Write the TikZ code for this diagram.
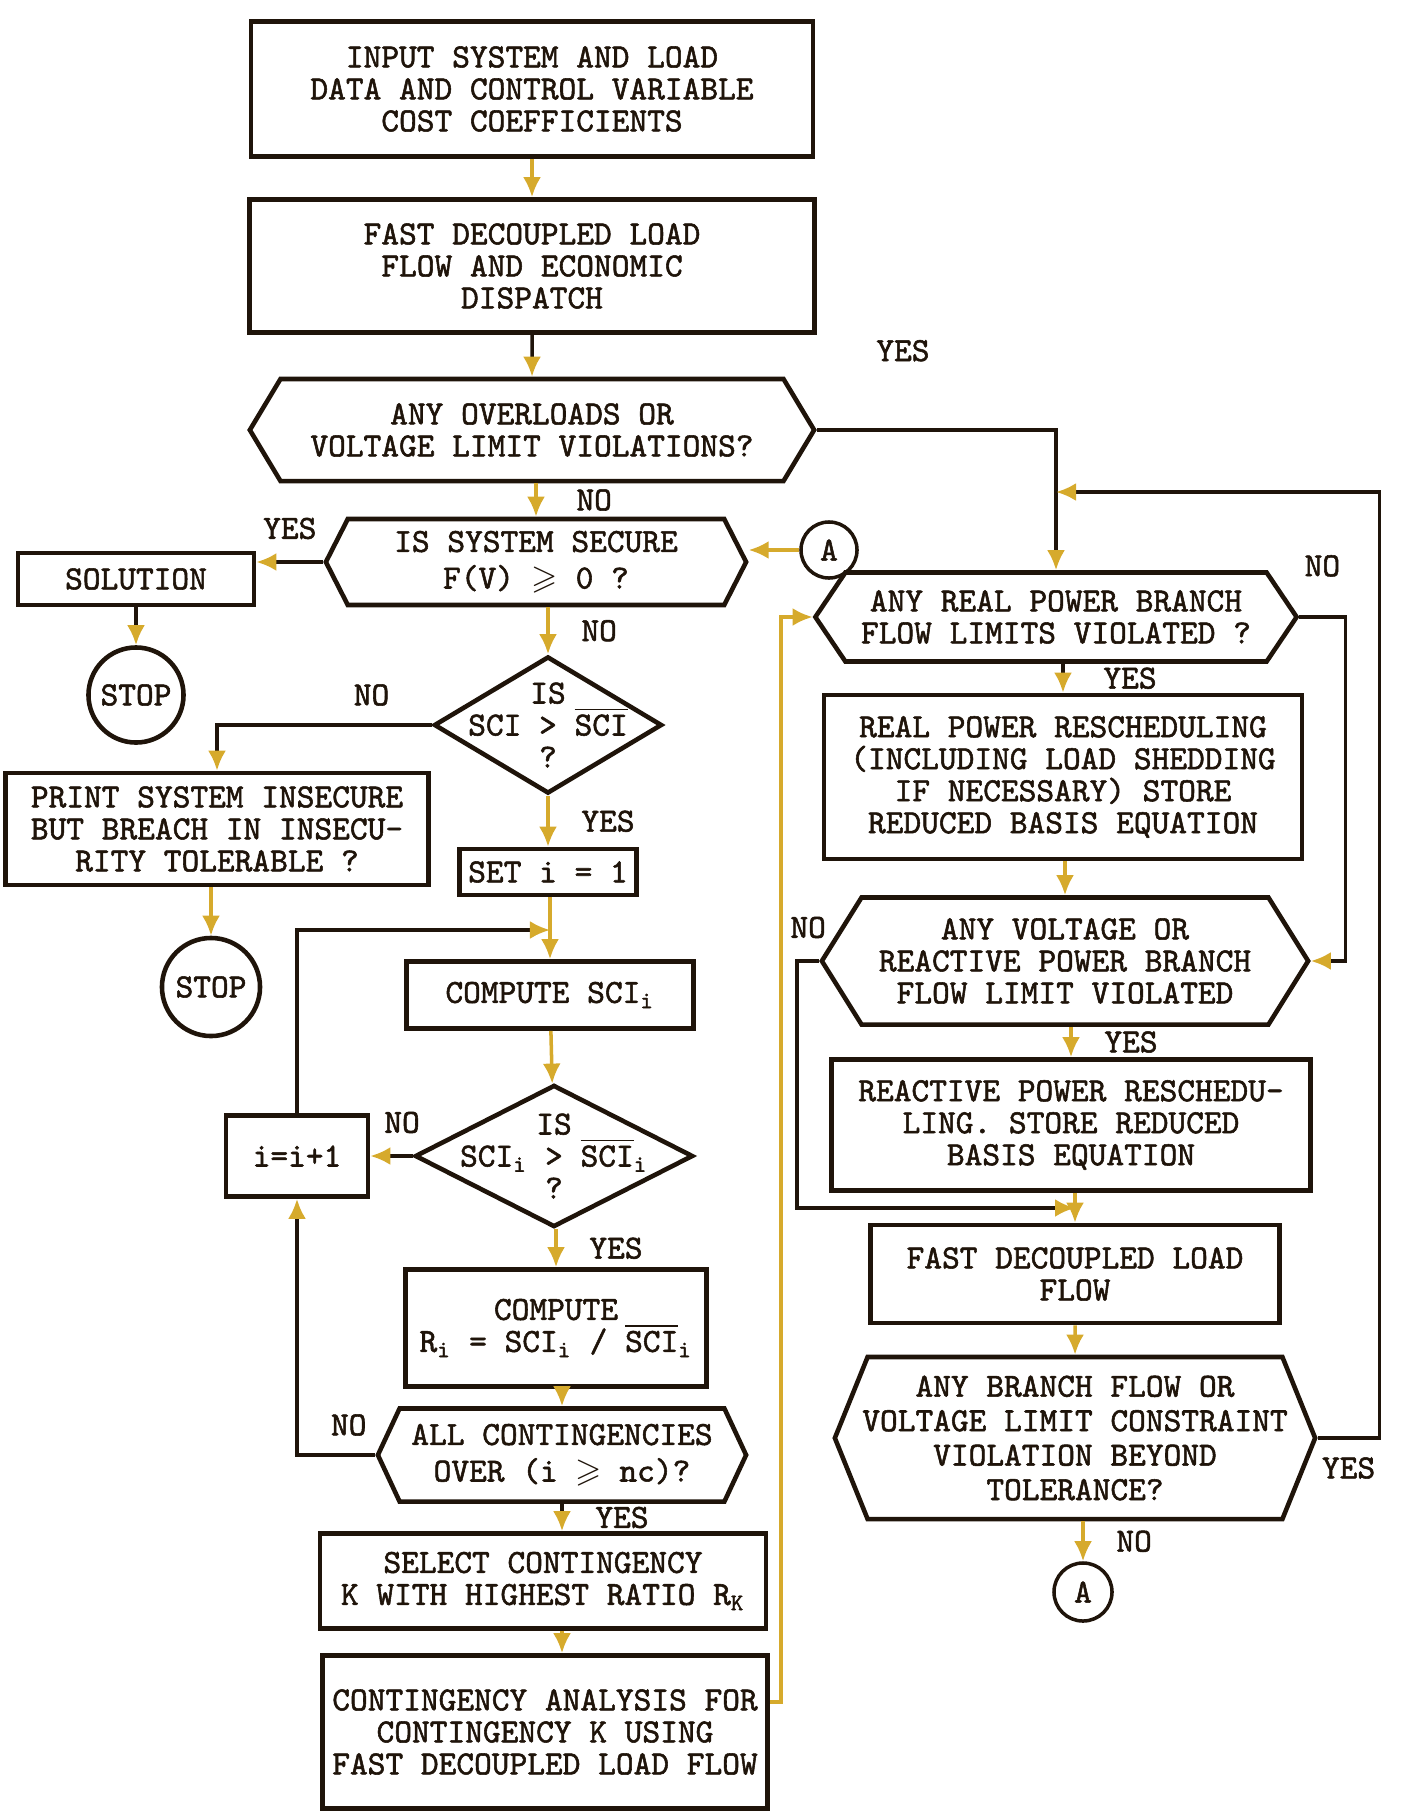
\documentclass[tikz,border=0pt]{standalone}
\usepackage{amssymb}
\usepackage{fontspec}
\newfontfamily\typefont{lmmono10-regular}[Extension=.otf, FakeBold=1.6]
\usetikzlibrary{arrows.meta,positioning,shapes.geometric,shapes.symbols}
\definecolor{inkcolor}{HTML}{1F140A}
\definecolor{fadecolor}{HTML}{D6AA2C}
\tikzset{
    box/.style={
        shape=rectangle,
        draw=inkcolor,
        line width=1.3pt,
        align=center,
        inner sep=2pt,
        text=inkcolor,
        font=\typefont\fontsize{9.6}{9.1}\selectfont
    },
    decision/.style={
        box,
        shape=signal,
        signal to=west and east
    },
    query/.style={
        box,
        shape=diamond,
        inner sep=0pt
    },
    terminal/.style={
        box,
        shape=circle,
        inner sep=0pt
    },
    answer/.style={
        text=inkcolor,
        inner sep=1pt,
        font=\typefont\fontsize{9.6}{9.1}\selectfont
    },
    flow/.style={
        draw=inkcolor,
        line width=1pt,
        -{Latex[length=2mm,width=1.8mm,color=fadecolor]}
    },
    faintflow/.style={
        flow,
        draw=fadecolor
    }
}
\newcommand{\barsci}{$\overline{\hbox{SCI}}$}

\begin{document}
\begin{tikzpicture}[x=0.01cm, y=-0.01cm]
    \useasboundingbox (0,0) rectangle (1408,1815);

    % left column
    \node[box, minimum width=5.62cm, minimum height=1.35cm] (input) at (532,89)
        {INPUT SYSTEM AND LOAD\\DATA AND CONTROL VARIABLE\\COST COEFFICIENTS};
    \node[box, minimum width=5.65cm, minimum height=1.33cm] (fdlf) at (532,266)
        {FAST DECOUPLED LOAD\\FLOW AND ECONOMIC\\DISPATCH};
    \node[decision, minimum width=5.64cm, minimum height=1.02cm, signal pointer angle=118] (overload) at (532,430)
        {ANY OVERLOADS OR\\VOLTAGE LIMIT VIOLATIONS?};
    \node[decision, minimum width=4.2cm, minimum height=0.86cm, signal pointer angle=126,
        font=\typefont\fontsize{9.6}{10.4}\selectfont] (secure) at (536,562)
        {IS SYSTEM SECURE\\F(V) $\geqslant$ 0 ?};
    \node[box, minimum width=2.36cm, minimum height=0.52cm] (solution) at (136,579) {SOLUTION};
    \node[terminal, minimum size=0.95cm] (stopa) at (136,695) {STOP};
    \node[terminal, minimum size=0.56cm, line width=1pt] (conna) at (829,550) {A};

    \node[query, minimum width=2.28cm, minimum height=1.37cm,
        label={[answer, align=center]center:IS\\SCI > \barsci\\?}] (sci) at (548,725) {};
    \node[box, minimum width=4.23cm, minimum height=1.12cm] (insecure) at (217,829)
        {PRINT SYSTEM INSECURE\\BUT BREACH IN INSECU-\\RITY TOLERABLE ?};
    \node[terminal, minimum size=0.98cm] (stopb) at (211,987) {STOP};
    \node[box, minimum width=1.77cm, minimum height=0.46cm] (setone) at (548,872) {SET i = 1};
    \node[box, minimum width=2.87cm, minimum height=0.67cm] (compute) at (550,995) {COMPUTE SCI\textsubscript{i}};
    \node[query, minimum width=2.78cm, minimum height=1.42cm,
        label={[answer, align=center]center:IS\\SCI\textsubscript{i} > \barsci\textsubscript{i}\\?}] (scii) at (554,1156) {};
    \node[box, minimum width=1.42cm, minimum height=0.81cm] (incr) at (297,1156) {i=i+1};
    \node[box, minimum width=3.01cm, minimum height=1.17cm] (ratio) at (556,1328)
        {COMPUTE\\R\textsubscript{i} = SCI\textsubscript{i} / \barsci\textsubscript{i}};
    \node[decision, minimum width=3.68cm, minimum height=0.93cm, signal pointer angle=130,
        font=\typefont\fontsize{9.6}{10.4}\selectfont] (allover) at (562,1455)
        {ALL CONTINGENCIES\\OVER (i $\geqslant$ nc)?};
    \node[box, minimum width=4.46cm, minimum height=0.95cm] (select) at (543,1581)
        {SELECT CONTINGENCY\\K WITH HIGHEST RATIO R\textsubscript{K}};
    \node[box, minimum width=4.45cm, minimum height=1.53cm] (analysis) at (545,1732)
        {CONTINGENCY ANALYSIS FOR\\CONTINGENCY K USING\\FAST DECOUPLED LOAD FLOW};

    % right column
    \node[decision, minimum width=4.81cm, minimum height=0.89cm, signal pointer angle=112] (realflow) at (1056,617)
        {ANY REAL POWER BRANCH\\FLOW LIMITS VIOLATED ?};
    \node[box, minimum width=4.78cm, minimum height=1.64cm] (realresched) at (1063,777)
        {REAL POWER RESCHEDULING\\(INCLUDING LOAD SHEDDING\\IF NECESSARY) STORE\\REDUCED BASIS EQUATION};
    \node[decision, minimum width=4.86cm, minimum height=1.27cm, signal pointer angle=116] (voltage) at (1065,961)
        {ANY VOLTAGE OR\\REACTIVE POWER BRANCH\\FLOW LIMIT VIOLATED};
    \node[box, minimum width=4.79cm, minimum height=1.31cm] (reactive) at (1071,1125)
        {REACTIVE POWER RESCHEDU-\\LING. STORE REDUCED\\BASIS EQUATION};
    \node[box, minimum width=4.09cm, minimum height=0.98cm] (fdlfb) at (1075,1274)
        {FAST DECOUPLED LOAD\\FLOW};
    \node[decision, minimum width=4.8cm, minimum height=1.62cm, signal pointer angle=136, inner xsep=-0.12cm,
        font=\typefont\fontsize{9.6}{9.8}\selectfont] (tolerance) at (1075,1438)
        {ANY BRANCH FLOW OR\\VOLTAGE LIMIT CONSTRAINT\\VIOLATION BEYOND\\TOLERANCE?};
    \node[terminal, minimum size=0.58cm, line width=1pt] (connb) at (1083,1592) {A};

    \coordinate (loopin) at (550,930);
    \coordinate (realin) at (1056,492);
    \coordinate (fdlfin) at (1075,1208);

    \begin{scope} % main flow
        \draw[faintflow] (input) -- (fdlf);
        \draw[flow] (fdlf) -- (overload);
        \draw[faintflow] (overload.south -| secure) -- node[answer, right=10pt] {NO} (secure.north);
        \draw[faintflow] (secure.south -| sci) -- node[answer, right=8pt] {NO} (sci.north);
        \draw[faintflow] (sci.south) -- node[answer, right=8pt] {YES} (setone.north);
        \draw[faintflow] (setone.south -| compute) -- (compute.north);
        \draw[faintflow] (compute) -- (scii);
        \draw[faintflow] (scii.south -| ratio) -- node[answer, right=8pt] {YES} (ratio.north);
        \draw[faintflow] (ratio.south -| allover) -- (allover.north);
        \draw[flow] (allover.south) -- node[answer, right=8pt] {YES} (allover.south |- select.north);
        \draw[faintflow] (select.south -| allover) -- (allover |- analysis.north);
    \end{scope}
    \begin{scope} % branches
        \draw[flow] (secure.west) -- node[answer, above=5pt] {YES} (secure.west -| solution.east);
        \draw[flow] (solution) -- (stopa);
        \draw[faintflow] (conna.west) -- (conna.west -| secure.east);
        \draw[flow] (sci.west) -| node[answer, pos=0.14, above=4pt] {NO} (insecure.north);
        \draw[faintflow] (stopb |- insecure.south) -- (stopb.north);
        \draw[flow] (scii.west) -- node[answer, pos=0.25, above=5pt] {NO} (incr.east);
        \draw[flow] (incr.north) |- (loopin);
        \draw[flow] (allover.west) -| node[answer, pos=0.17, above=4pt] {NO} (incr.south);
        \draw[faintflow] ([yshift=0.3cm]analysis.east) -- ++(11,0) |- (realflow.west);
    \end{scope}
    \begin{scope} % right side
        \draw[flow] (overload.east) -| node[answer, pos=0.18, above=18pt] {YES} (realflow.north);
        \draw[flow] (realflow.south -| realresched) -- node[answer, right=10pt] {YES} (realresched.north);
        \draw[flow] (realflow.east) -- node[answer, above=10pt] {NO} ++(46,0) |- (voltage.east);
        \draw[faintflow] (realresched.south -| voltage) -- (voltage.north);
        \draw[faintflow] (voltage.south -| reactive) -- node[answer, right=8pt] {YES} (reactive.north);
        \draw[flow] (voltage.west) -- node[answer, above=5pt] {NO} ++(-22,0) |- (fdlfin);
        \draw[faintflow] (reactive.south -| fdlfb) -- (fdlfb.north);
        \draw[faintflow] (fdlfb) -- (tolerance);
        \draw[faintflow] (tolerance.south -| connb) -- node[answer, right=8pt] {NO} (connb.north);
        \draw[flow] (tolerance.east) -- node[answer, below=4pt] {YES} ++(62,0) |- (realin);
    \end{scope}
\end{tikzpicture}
\end{document}
